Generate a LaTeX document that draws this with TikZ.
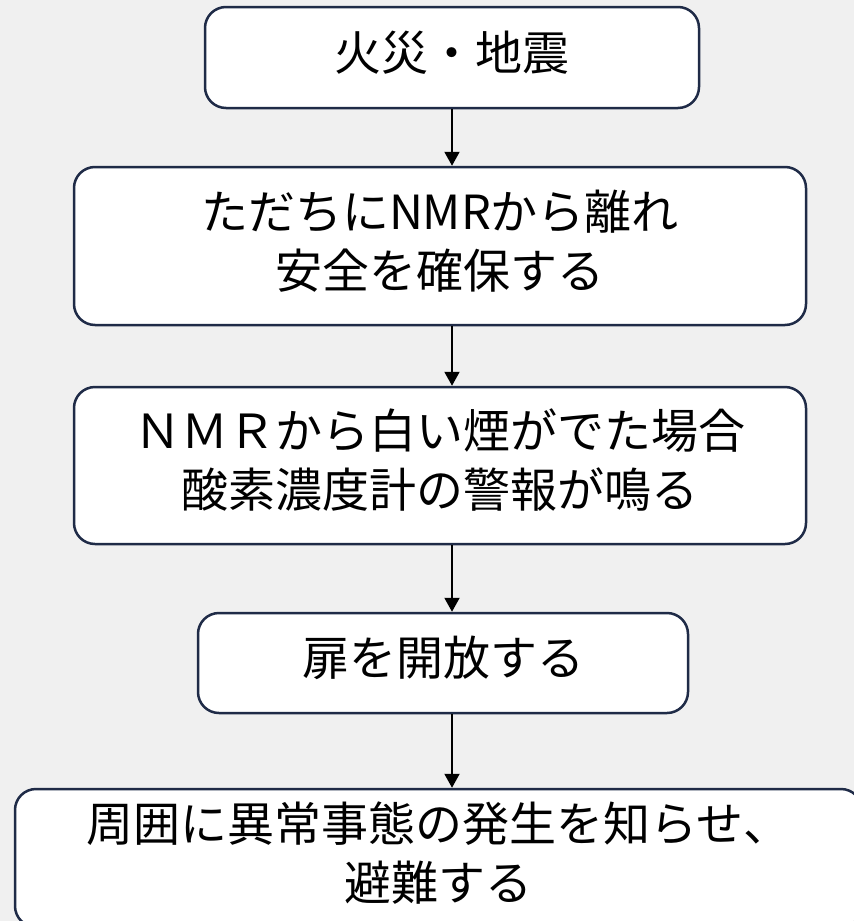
\documentclass[tikz,border=0pt]{standalone}
\usepackage{fontspec}
\newfontfamily\jp{Noto Sans CJK JP}
\usetikzlibrary{arrows.meta}
\definecolor{bg}{HTML}{F0F0F0}
\definecolor{edge}{HTML}{1F2B47}
\tikzset{
  stepbox/.style={draw=edge, line width=2.5pt, fill=white, rounded corners=21pt,
    align=center, inner sep=0pt, text depth=14pt, font=\jp\fontsize{47}{59}\selectfont, text=black},
  arr/.style={draw=black, line width=2pt, -{Triangle[width=15pt,length=14pt]}}
}
\begin{document}
\begin{tikzpicture}[x=1pt,y=-1pt]
\useasboundingbox[fill=bg] (0,0) rectangle (854,921);
\clip (0,0) rectangle (854,921);
\node[stepbox, minimum width=494pt, minimum height=101pt] (b1) at (452,57.5) {火災・地震};
\node[stepbox, minimum width=732pt, minimum height=158pt] (b2) at (440,246) {ただちにNMRから離れ\\安全を確保する};
\node[stepbox, minimum width=732pt, minimum height=157pt] (b3) at (440,465.5) {ＮＭＲから白い煙がでた場合\\酸素濃度計の警報が鳴る};
\node[stepbox, minimum width=490pt, minimum height=100pt] (b4) at (443,663) {扉を開放する};
\node[stepbox, minimum width=847pt, minimum height=138pt] (b5) at (438.5,858) {周囲に異常事態の発生を知らせ、\\避難する};
\draw[arr] (b1.south) -- (b1.south |- b2.north);
\draw[arr] (b2.south -| b1.south) -- (b3.north -| b1.south);
\draw[arr] (b3.south -| b1.south) -- (b4.north -| b1.south);
\draw[arr] (b4.south -| b1.south) -- (b5.north -| b1.south);
\end{tikzpicture}
\end{document}
